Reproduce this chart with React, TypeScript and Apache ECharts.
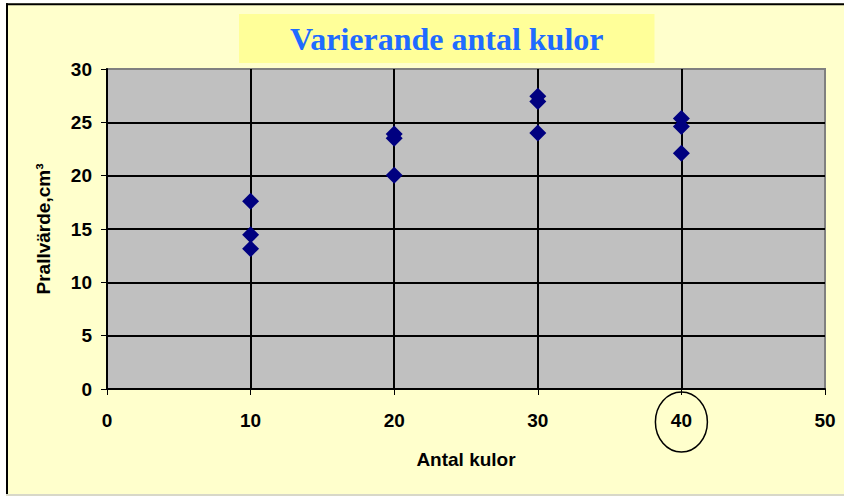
import React, { useEffect, useRef } from "react";
import * as echarts from "echarts";

const xValues = [10, 10, 10, 20, 20, 20, 30, 30, 30, 40, 40, 40];
const yValues = [17.6, 14.45, 13.15, 23.9, 23.5, 20.05, 27.45, 26.95, 24.0, 25.35, 24.6, 22.1];
const titleText = "Varierande antal kulor";
const xAxisName = "Antal kulor";
const yAxisName = "Prallvärde,cm³";
const circledTick = 40;

export default function App() {
  const ref = useRef<HTMLDivElement>(null);
  useEffect(() => {
    document.body.style.margin = "0";
    const chart = echarts.init(ref.current!, null, { renderer: "svg" });
    const points = xValues.map((x, i) => [x, yValues[i]]);
    const font = "Arial, 'Liberation Sans', sans-serif";
    const option: any = {
      animation: false,
      backgroundColor: "#FFFFCC",
      title: {
        text: titleText,
        left: 239,
        top: 14,
        padding: [9, 51, 8, 51],
        backgroundColor: "#FFFF99",
        textStyle: {
          fontFamily: "'Times New Roman', 'Liberation Serif', serif",
          fontWeight: "bold",
          fontSize: 32,
          color: "#1F6BFF",
        },
      },
      grid: {
        left: 107,
        top: 69,
        right: 19,
        bottom: 107,
        show: true,
        backgroundColor: "#C0C0C0",
        borderColor: "#808080",
        borderWidth: 2,
      },
      xAxis: {
        type: "value",
        min: 0,
        max: 50,
        interval: 10,
        name: xAxisName,
        nameLocation: "middle",
        nameGap: 61,
        nameTextStyle: { fontFamily: font, fontWeight: "bold", fontSize: 19, color: "#000" },
        axisLine: { show: true, onZero: false, lineStyle: { color: "#000", width: 2 } },
        axisTick: { show: true, inside: false, length: 6, lineStyle: { color: "#000", width: 1 } },
        axisLabel: { margin: 22, fontFamily: font, fontWeight: "bold", fontSize: 19, color: "#000" },
        splitLine: {
          show: true,
          showMinLine: false,
          showMaxLine: false,
          lineStyle: { color: "#000", width: 2 },
        },
      },
      yAxis: {
        type: "value",
        min: 0,
        max: 30,
        interval: 5,
        name: yAxisName,
        nameLocation: "middle",
        nameGap: 54,
        nameTextStyle: { fontFamily: font, fontWeight: "bold", fontSize: 19, color: "#000" },
        axisLine: { show: true, onZero: false, lineStyle: { color: "#000", width: 2 } },
        axisTick: { show: true, inside: false, length: 6, lineStyle: { color: "#000", width: 1 } },
        axisLabel: { margin: 15, fontFamily: font, fontWeight: "bold", fontSize: 19, color: "#000" },
        splitLine: {
          show: true,
          showMinLine: false,
          showMaxLine: false,
          lineStyle: { color: "#000", width: 2 },
        },
      },
      series: [
        {
          type: "scatter",
          data: points,
          symbol: "diamond",
          symbolSize: 17,
          itemStyle: { color: "#000080", opacity: 1 },
          z: 5,
        },
      ],
    };
    chart.setOption(option);
    const p = chart.convertToPixel({ gridIndex: 0 }, [circledTick, 0]) as number[];
    chart.setOption({
      graphic: [
        { type: "rect", shape: { x: 0, y: 0, width: 844, height: 3.3 }, style: { fill: "#FFFFFF" }, silent: true },
        { type: "rect", shape: { x: 0, y: 0, width: 6, height: 496 }, style: { fill: "#FFFFFF" }, silent: true },
        { type: "line", shape: { x1: 6, y1: 4.3, x2: 844, y2: 4.3 }, style: { stroke: "#000", lineWidth: 2 }, silent: true },
        { type: "line", shape: { x1: 7, y1: 3.3, x2: 7, y2: 494 }, style: { stroke: "#000", lineWidth: 2 }, silent: true },
        { type: "rect", shape: { x: 6, y: 494, width: 838, height: 2 }, style: { fill: "#D8D8C8" }, silent: true },
        {
          type: "ellipse",
          shape: { cx: p[0], cy: p[1] + 33, rx: 26, ry: 30 },
          style: { fill: "none", stroke: "#000", lineWidth: 1.5 },
          silent: true,
        },
      ],
    });
    return () => chart.dispose();
  }, []);
  return <div ref={ref} style={{ width: 844, height: 496 }} />;
}
